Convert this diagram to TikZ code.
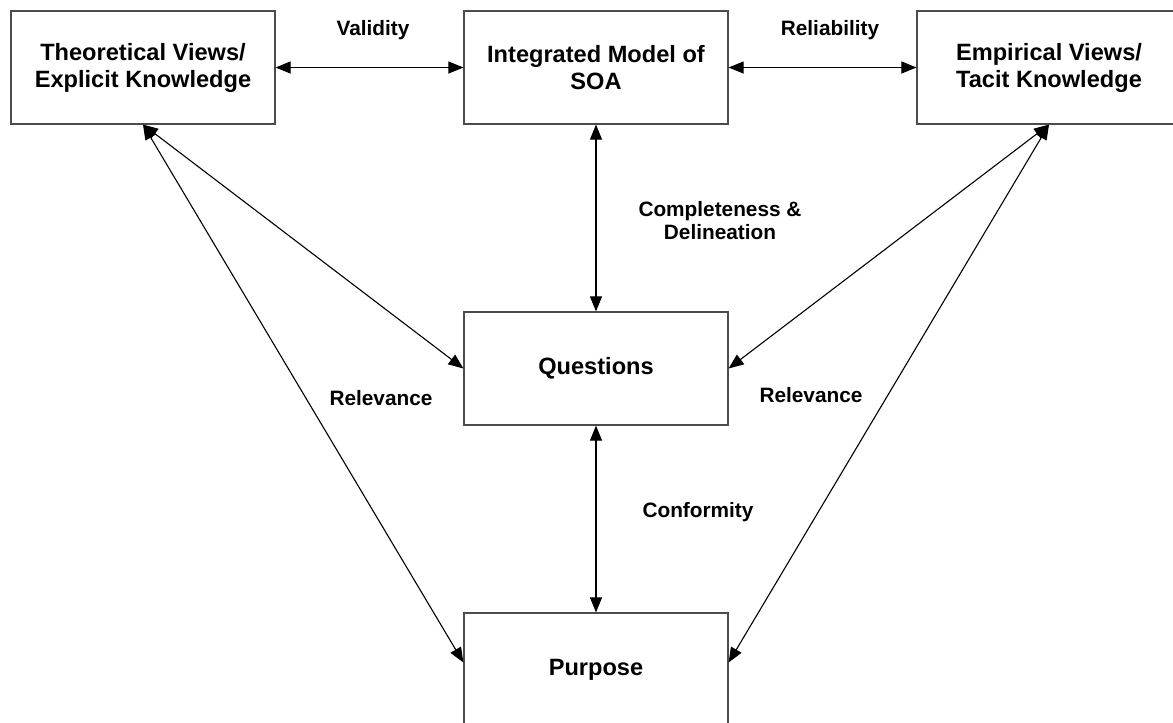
\documentclass[tikz,border=0pt]{standalone}
\usepackage{fontspec}
\setmainfont{Liberation Sans}
\usetikzlibrary{arrows.meta}

\begin{document}
\begin{tikzpicture}[x=0.5pt,y=-0.5pt,
    box/.style={draw=black!70, line width=0.6pt, minimum width=132pt, minimum height=56.5pt,
      align=center, font=\fontsize{11.8}{13.5}\selectfont\bfseries},
    lbl/.style={align=center, font=\fontsize{10.4}{11.5}\selectfont\bfseries},
    link/.style={{Triangle[length=7.5pt,width=6pt]}-{Triangle[length=7.5pt,width=6pt]}, line width=0.55pt}]
    \useasboundingbox (0,0) rectangle (1173,723);
    \node[box] (theory) at (143,67.5) {Theoretical Views/\\Explicit Knowledge};
    \node[box] (model) at (596,67.5) {Integrated Model of\\SOA};
    \node[box] (empir) at (1049,67.5) {Empirical Views/\\Tacit Knowledge};
    \node[box] (quest) at (596,368.5) {Questions};
    \node[box] (purp) at (596,669.5) {Purpose};
    \node[lbl] (valid) at (373,30) {Validity};
    \node[lbl] (reliab) at (830,30) {Reliability};
    \node[lbl] (compl) at (720,221) {Completeness \&\\Delineation};
    \node[lbl] (conf) at (698,512) {Conformity};
    \node[lbl] (relL) at (381,398) {Relevance};
    \node[lbl] (relR) at (811,395) {Relevance};
    \draw[link] (theory) -- (model);
    \draw[link] (model) -- (empir);
    \draw[link] (model) -- (quest);
    \draw[link] (quest) -- (purp);
    \draw[link] (theory.south) -- (quest.west);
    \draw[link] (theory.south) -- (purp.177);
    \draw[link] (empir.south) -- (quest.east);
    \draw[link] (empir.south) -- (purp.3);
\end{tikzpicture}
\end{document}
